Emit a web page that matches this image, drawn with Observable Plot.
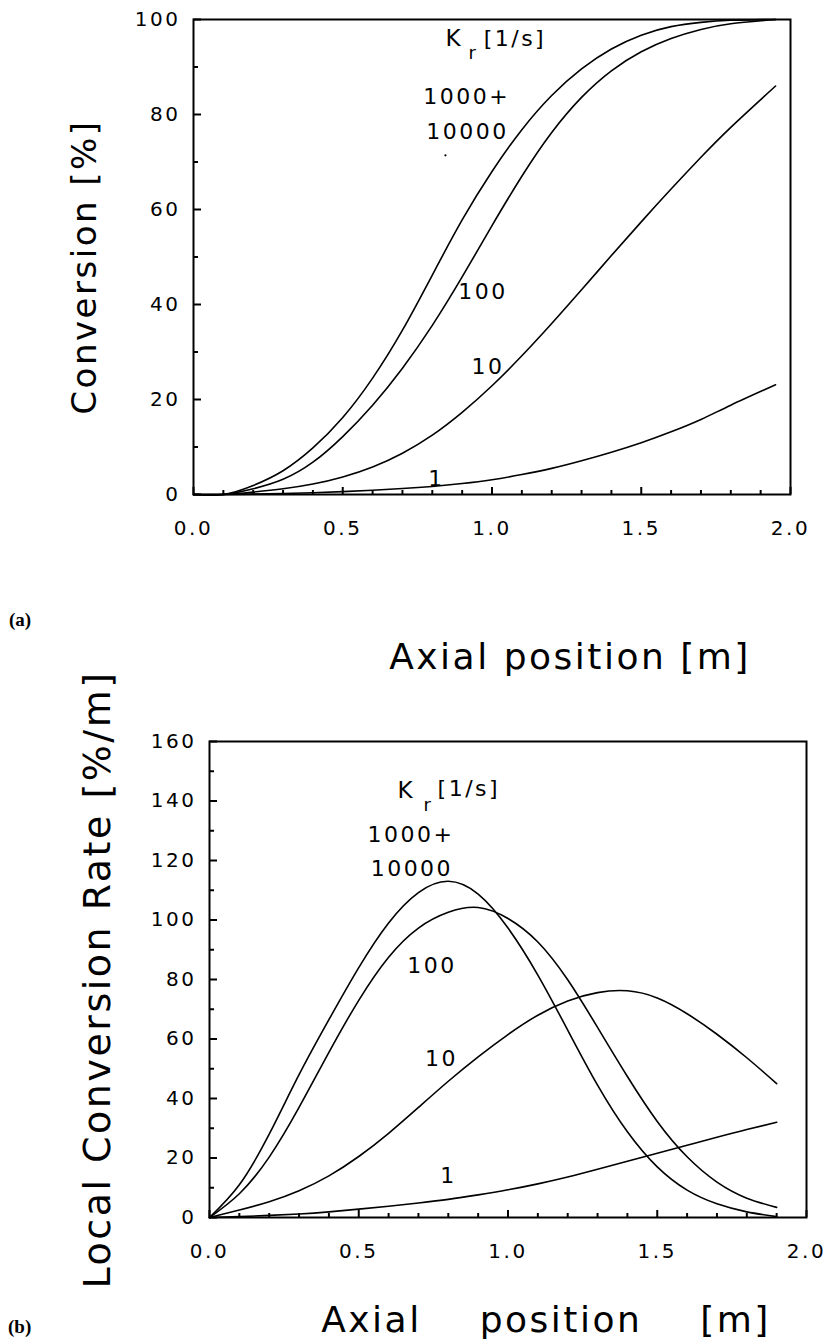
<!DOCTYPE html>
<html>
<head>
<meta charset="utf-8">
<script src="https://cdn.jsdelivr.net/npm/d3@7"></script>
<script src="https://cdn.jsdelivr.net/npm/@observablehq/plot@0.6"></script>
<style>
  html, body { margin: 0; padding: 0; background: #fff; }
  #wrap { position: relative; width: 828px; height: 1340px; overflow: hidden; background: #fff; }
  #pa { position: absolute; left: 0; top: 0; }
  #pb { position: absolute; left: 0; top: 640px; }
  #wrap svg text { letter-spacing: 2.5px; }
  .tag { position: absolute; font-family: "Liberation Serif", "DejaVu Serif", serif; font-weight: bold; font-size: 19px; line-height: 22px; }
</style>
</head>
<body>
<div id="wrap">
  <div id="pa"></div>
  <div id="pb"></div>
  <div class="tag" style="left:9px; top:609px;">(a)</div>
  <div class="tag" style="left:8px; top:1316px;">(b)</div>
</div>
<script>
// ---------- Data ----------
// Panel (a): conversion [%] vs axial position [m], one series per Kr [1/s]
const positionsA = [0, 0.1, 0.2, 0.3, 0.4, 0.5, 0.6, 0.7, 0.8, 0.9, 1.0, 1.1, 1.2, 1.3, 1.4, 1.5, 1.6, 1.7, 1.8, 1.95];
const convKr10000 = [0, 0, 1.9, 5, 9.8, 16.2, 24.5, 34.6, 46.2, 57.8, 68, 76.8, 84, 89.6, 93.8, 96.7, 98.5, 99.4, 99.85, 100];
const convKr100   = [0, 0, 1.2, 3.2, 6.8, 12.2, 18.8, 26.6, 35.6, 45.8, 56.6, 67, 76.2, 83.6, 89.2, 93.2, 96, 97.9, 99.1, 100];
const convKr10    = [0, 0, 0.5, 1.2, 2.2, 3.7, 5.8, 8.7, 12.5, 17.3, 22.9, 29.2, 36, 43.1, 50.3, 57.4, 64.3, 71, 77.3, 86];
const convKr1     = [0, 0, 0.08, 0.2, 0.38, 0.6, 0.9, 1.25, 1.7, 2.3, 3.1, 4.2, 5.5, 7.1, 8.9, 10.9, 13.2, 15.8, 18.8, 23.1];

// Panel (b): local conversion rate [%/m] vs axial position [m]
const positionsB = [0, 0.1, 0.2, 0.3, 0.4, 0.5, 0.6, 0.7, 0.8, 0.9, 1.0, 1.1, 1.2, 1.3, 1.4, 1.5, 1.6, 1.7, 1.8, 1.9];
const rateKr10000 = [0, 11, 28, 48, 66.5, 84, 99, 109.2, 113, 108.7, 97.3, 81.5, 63, 44.5, 28.8, 17, 9.2, 4.6, 1.9, 0.3];
const rateKr100   = [0, 8, 20.3, 37, 55.5, 73, 87.5, 97.3, 102.6, 104.2, 100.5, 92.6, 79.9, 63.9, 47.4, 32.3, 20.4, 11.9, 6.5, 3.4];
const rateKr10    = [0, 2.5, 5.3, 9, 14, 20.5, 28.3, 37, 45.8, 54, 61.5, 68, 72.8, 75.6, 76.2, 73.8, 68.5, 61.6, 53.7, 45];
const rateKr1     = [0, 0.3, 0.7, 1.2, 1.9, 2.8, 3.8, 4.9, 6.1, 7.6, 9.3, 11.3, 13.6, 16.2, 18.9, 21.6, 24.3, 27, 29.6, 32];

// Axis ticks
const xMajorTicks = [0, 0.5, 1.0, 1.5, 2.0];
const xMinorTicks = [0.1, 0.2, 0.3, 0.4, 0.6, 0.7, 0.8, 0.9, 1.1, 1.2, 1.3, 1.4, 1.6, 1.7, 1.8, 1.9];
const yMajorTicksA = [0, 20, 40, 60, 80, 100];
const yMinorTicksA = [10, 30, 50, 70, 90];
const yMajorTicksB = [0, 20, 40, 60, 80, 100, 120, 140, 160];
const yMinorTicksB = [10, 30, 50, 70, 90, 110, 130, 150];

// Curve labels (data coordinates)
const curveLabelsA = [
  {text: "1000+", x: 0.915, y: 83.7},
  {text: "10000", x: 0.918, y: 76.3},
  {text: "100", x: 0.970, y: 42.7},
  {text: "10", x: 0.987, y: 26.9},
  {text: "1", x: 0.814, y: 3.2}
];
const curveLabelsB = [
  {text: "1000+", x: 0.675, y: 128.6},
  {text: "10000", x: 0.678, y: 117.1},
  {text: "100", x: 0.745, y: 84.7},
  {text: "10", x: 0.777, y: 53.3},
  {text: "1", x: 0.801, y: 14.1}
];
const headerA = [
  {text: "K", x: 0.844, y: 95.9, size: 23},
  {text: "r", x: 0.921, y: 92.9, size: 18},
  {text: "[1/s]", x: 0.972, y: 95.9, size: 22}
];
const headerB = [
  {text: "K", x: 0.630, y: 143.4, size: 23},
  {text: "r", x: 0.717, y: 138.5, size: 18},
  {text: "[1/s]", x: 0.764, y: 143.9, size: 22}
];
const strayDotA = [{x: 0.844, y: 71.4}];

const xTitle = "Axial position [m]";
const yTitleA = "Conversion [%]";
const yTitleB = "Local Conversion Rate [%/m]";

// ---------- Helpers ----------
function tidy(xs, series) {
  return series.flatMap(s => xs.map((x, i) => ({x, y: s.values[i], k: s.k})));
}
const FONT = "DejaVu Sans, Liberation Sans, sans-serif";

function panel(o) {
  const {width, height, mt, mr, mb, ml, yDomain, yMajor, yMinor, data, labels, header, dots} = o;
  const fw = width - ml - mr;
  const fh = height - mt - mb;
  return Plot.plot({
    width, height,
    marginTop: mt, marginRight: mr, marginBottom: mb, marginLeft: ml,
    style: {fontFamily: FONT, color: "black", background: "transparent"},
    x: {domain: [0, 2]},
    y: {domain: yDomain},
    marks: [
      Plot.frame({stroke: "black", strokeWidth: 2}),
      // ticks pointing inward
      Plot.tickY(yMajor, {y: d => d, insetRight: fw - 8, stroke: "black", strokeWidth: 2}),
      Plot.tickY(yMinor, {y: d => d, insetRight: fw - 5, stroke: "black", strokeWidth: 2}),
      Plot.tickX(xMajorTicks, {x: d => d, insetTop: fh - 7, stroke: "black", strokeWidth: 2}),
      Plot.tickX(xMinorTicks, {x: d => d, insetTop: fh - 4, stroke: "black", strokeWidth: 2}),
      Plot.axisX({ticks: xMajorTicks, tickFormat: d3.format(".1f"), tickSize: 0, tickPadding: 26, fontSize: 20, label: null}),
      Plot.axisY({ticks: yMajor, tickFormat: d3.format("d"), tickSize: 0, tickPadding: 13, fontSize: 20, label: null}),
      Plot.line(data, {x: "x", y: "y", z: "k", curve: "natural", stroke: "black", strokeWidth: 1.6}),
      Plot.text(labels, {x: "x", y: "y", text: "text", fontSize: 22, textAnchor: "middle", lineAnchor: "middle", fill: "black"}),
      Plot.text(header, {x: "x", y: "y", text: "text", fontSize: d => d.size, textAnchor: "start", lineAnchor: "middle", fill: "black"}),
      ...(dots ? [Plot.dot(dots, {x: "x", y: "y", r: 1.1, fill: "black", stroke: null})] : []),
      Plot.text([xTitle], {text: d => d, frameAnchor: "bottom", dx: o.xTitleDx, dy: o.xTitleDy, fontSize: 36, textAnchor: "middle", lineAnchor: "middle", fill: "black", className: "xtitle"}),
      Plot.text([o.yTitle], {text: d => d, frameAnchor: "left", dx: o.yTitleDx, dy: o.yTitleDy, rotate: -90, fontSize: o.yTitleSize, textAnchor: "middle", lineAnchor: "middle", fill: "black"})
    ]
  });
}

const dataA = tidy(positionsA, [
  {k: "10000", values: convKr10000},
  {k: "100", values: convKr100},
  {k: "10", values: convKr10},
  {k: "1", values: convKr1}
]);
const dataB = tidy(positionsB, [
  {k: "10000", values: rateKr10000},
  {k: "100", values: rateKr100},
  {k: "10", values: rateKr10},
  {k: "1", values: rateKr1}
]);

document.getElementById("pa").appendChild(panel({
  width: 828, height: 680, mt: 19, mr: 38, mb: 186, ml: 193,
  yDomain: [0, 100], yMajor: yMajorTicksA, yMinor: yMinorTicksA,
  data: dataA, labels: curveLabelsA, header: headerA, dots: strayDotA,
  yTitle: yTitleA, yTitleDx: -108, yTitleDy: 10, yTitleSize: 34, xTitleDx: 78, xTitleDy: 163
}));
const svgB = panel({
  width: 828, height: 700, mt: 101, mr: 22, mb: 123, ml: 209,
  yDomain: [0, 160], yMajor: yMajorTicksB, yMinor: yMinorTicksB,
  data: dataB, labels: curveLabelsB, header: headerB, dots: null,
  yTitle: yTitleB, yTitleDx: -112, yTitleDy: 0, yTitleSize: 38, xTitleDx: 38, xTitleDy: 103
});
document.getElementById("pb").appendChild(svgB);
// wider word gaps in the lower panel's x-axis title, as in the reference
d3.select(svgB).selectAll(".xtitle text").style("word-spacing", "44px");
</script>
</body>
</html>
